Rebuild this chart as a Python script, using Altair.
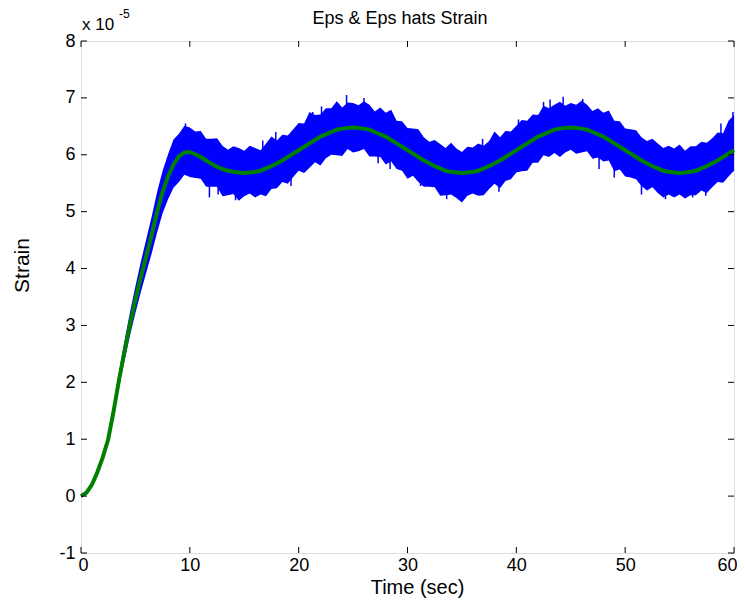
import altair as alt
import pandas as pd

# ---- data (strain in units of 1e-5) ----
time_s = [i / 2 for i in range(121)]  # 0 .. 60 s, 0.5 s sampling

green = [
    0.00, 0.06, 0.20, 0.42, 0.68, 1.00, 1.50, 2.05, 2.55, 3.02, 3.45,
    3.85, 4.22, 4.60, 5.00, 5.35, 5.62, 5.83, 5.97, 6.04, 6.05,
    6.01, 5.96, 5.90, 5.84, 5.79, 5.75, 5.72, 5.70, 5.69, 5.68,
    5.69, 5.70, 5.72, 5.76, 5.80, 5.85, 5.90, 5.96, 6.02, 6.08,
    6.14, 6.20, 6.26, 6.32, 6.36, 6.40, 6.44, 6.46, 6.47, 6.48,
    6.47, 6.46, 6.44, 6.40, 6.36, 6.32, 6.26, 6.20, 6.14, 6.08,
    6.02, 5.96, 5.90, 5.85, 5.80, 5.76, 5.72, 5.70, 5.69, 5.68,
    5.69, 5.70, 5.72, 5.76, 5.80, 5.85, 5.90, 5.96, 6.02, 6.08,
    6.14, 6.20, 6.26, 6.32, 6.36, 6.40, 6.44, 6.46, 6.47, 6.48,
    6.47, 6.46, 6.44, 6.40, 6.36, 6.32, 6.26, 6.20, 6.14, 6.08,
    6.02, 5.96, 5.90, 5.85, 5.80, 5.76, 5.72, 5.70, 5.69, 5.68,
    5.69, 5.70, 5.72, 5.76, 5.80, 5.85, 5.90, 5.96, 6.02, 6.08,
]

# upper / lower reach of the noisy blue signal around the fit
noise_up = [
    0.02, 0.02, 0.03, 0.04, 0.05, 0.07, 0.10, 0.14, 0.18, 0.21, 0.24,
    0.27, 0.30, 0.32, 0.35, 0.37, 0.39, 0.44, 0.40, 0.47, 0.43,
    0.40, 0.46, 0.38, 0.44, 0.50, 0.41, 0.37, 0.45, 0.43, 0.39,
    0.47, 0.42, 0.36, 0.44, 0.52, 0.40, 0.45, 0.38, 0.43, 0.48,
    0.41, 0.55, 0.44, 0.39, 0.46, 0.42, 0.50, 0.37, 0.45, 0.43,
    0.40, 0.48, 0.44, 0.36, 0.47, 0.42, 0.53, 0.40, 0.45, 0.39,
    0.44, 0.49, 0.41, 0.38, 0.46, 0.43, 0.40, 0.51, 0.42, 0.37,
    0.45, 0.43, 0.48, 0.40, 0.44, 0.56, 0.41, 0.46, 0.39, 0.43,
    0.47, 0.40, 0.45, 0.38, 0.50, 0.42, 0.44, 0.47, 0.39, 0.43,
    0.41, 0.49, 0.44, 0.37, 0.46, 0.42, 0.52, 0.40, 0.45, 0.38,
    0.43, 0.47, 0.41, 0.39, 0.48, 0.44, 0.40, 0.46, 0.42, 0.50,
    0.38, 0.45, 0.43, 0.47, 0.41, 0.44, 0.49, 0.42, 0.58, 0.62,
]
noise_dn = [
    0.02, 0.02, 0.03, 0.04, 0.05, 0.07, 0.09, 0.13, 0.17, 0.20, 0.23,
    0.26, 0.29, 0.33, 0.36, 0.38, 0.40, 0.41, 0.45, 0.39, 0.44,
    0.42, 0.38, 0.46, 0.40, 0.35, 0.48, 0.43, 0.39, 0.50, 0.41,
    0.37, 0.45, 0.42, 0.49, 0.40, 0.44, 0.38, 0.47, 0.41, 0.36,
    0.46, 0.43, 0.39, 0.51, 0.42, 0.40, 0.45, 0.48, 0.37, 0.44,
    0.41, 0.36, 0.47, 0.43, 0.40, 0.49, 0.38, 0.45, 0.42, 0.50,
    0.39, 0.44, 0.46, 0.41, 0.37, 0.48, 0.43, 0.40, 0.45, 0.52,
    0.41, 0.38, 0.44, 0.47, 0.40, 0.36, 0.49, 0.42, 0.45, 0.39,
    0.43, 0.48, 0.40, 0.46, 0.37, 0.44, 0.41, 0.50, 0.43, 0.39,
    0.45, 0.42, 0.38, 0.47, 0.41, 0.44, 0.36, 0.49, 0.40, 0.46,
    0.42, 0.39, 0.45, 0.48, 0.37, 0.43, 0.47, 0.40, 0.44, 0.38,
    0.46, 0.41, 0.43, 0.39, 0.47, 0.42, 0.38, 0.45, 0.40, 0.36,
]

# isolated spikes of the blue signal
spike_t = [9.6, 11.8, 14.2, 16.7, 19.3, 22.1, 24.4, 26.0, 28.4, 33.6,
           36.9, 40.2, 42.5, 44.3, 46.1, 49.0, 53.7, 56.2, 58.8, 59.9,
           12.6, 17.9, 21.3, 27.3, 31.2, 38.4, 43.1, 47.6, 51.5, 57.4]
spike_from = [6.0, 5.6, 5.4, 5.9, 5.6, 6.5, 6.7, 6.7, 5.95, 5.4,
              6.0, 6.4, 6.6, 6.7, 6.7, 5.8, 5.4, 5.4, 6.2, 6.4,
              5.6, 6.1, 6.5, 6.0, 5.7, 5.6, 6.7, 6.0, 5.6, 5.5]
spike_to = [6.55, 5.25, 5.2, 6.25, 5.45, 6.85, 7.05, 7.0, 5.75, 5.22,
            6.28, 6.62, 6.93, 7.02, 6.98, 5.6, 5.22, 5.25, 6.55, 6.75,
            5.3, 6.4, 6.75, 5.85, 5.45, 5.35, 6.97, 5.75, 5.3, 5.28]

x_ticks = [0, 10, 20, 30, 40, 50, 60]
y_ticks = [-1, 0, 1, 2, 3, 4, 5, 6, 7, 8]

FONT = "Liberation Sans"
W, H = 653, 512
TICK = 6

df = pd.DataFrame({
    "t": time_s,
    "fit": green,
    "hi": [g + u for g, u in zip(green, noise_up)],
    "lo": [g - d for g, d in zip(green, noise_dn)],
})
spikes = pd.DataFrame({"t": spike_t, "a": spike_from, "b": spike_to})
xt = pd.DataFrame({"v": x_ticks})
yt = pd.DataFrame({"v": y_ticks})

xs = alt.Scale(domain=[0, 60], nice=False, zero=False)
ys = alt.Scale(domain=[-1, 8], nice=False, zero=False)

x_axis = alt.Axis(values=x_ticks, ticks=False, domain=False, grid=False,
                  labelFontSize=18, labelFont=FONT, labelColor="black",
                  labelPadding=3, labelExpr="'' + datum.value",
                  labelFlush=True, labelFlushOffset=3,
                  title="Time (sec)", titleFont=FONT,
                  titleFontSize=20, titleFontWeight="normal", titleColor="black",
                  titleX=336, titleY=40, titleBaseline="alphabetic")
y_axis = alt.Axis(values=y_ticks, ticks=False, domain=False, grid=False,
                  labelFontSize=18, labelFont=FONT, labelColor="black",
                  labelPadding=6, labelExpr="'' + datum.value",
                  title="Strain", titleFont=FONT,
                  titleFontSize=21, titleFontWeight="normal", titleColor="black",
                  titleX=-59, titleY=224, titleAngle=-90, titleBaseline="middle",
                  titleAlign="center")

band = alt.Chart(df).mark_area(color="#0000ff", opacity=1).encode(
    x=alt.X("t:Q", scale=xs, axis=x_axis),
    y=alt.Y("lo:Q", scale=ys, axis=y_axis),
    y2="hi:Q",
)
spk = alt.Chart(spikes).mark_rule(color="#0000ff", strokeWidth=1.5).encode(
    x=alt.X("t:Q", scale=xs), y=alt.Y("a:Q", scale=ys), y2="b:Q"
)
fit = alt.Chart(df).mark_line(color="#008000", strokeWidth=4).encode(
    x=alt.X("t:Q", scale=xs), y=alt.Y("fit:Q", scale=ys)
)

tick_style = dict(color="black", strokeWidth=1)
bt = alt.Chart(xt).mark_rule(**tick_style).encode(
    x=alt.X("v:Q", scale=xs), y=alt.value(H), y2=alt.value(H - TICK))
tt = alt.Chart(xt).mark_rule(**tick_style).encode(
    x=alt.X("v:Q", scale=xs), y=alt.value(0), y2=alt.value(TICK))
lt = alt.Chart(yt).mark_rule(**tick_style).encode(
    y=alt.Y("v:Q", scale=ys), x=alt.value(0), x2=alt.value(TICK))
rt = alt.Chart(yt).mark_rule(**tick_style).encode(
    y=alt.Y("v:Q", scale=ys), x=alt.value(W), x2=alt.value(W - TICK))

one = pd.DataFrame({"k": [0]})
mult = alt.Chart(one).mark_text(font=FONT, fontSize=17, align="left",
                                baseline="alphabetic", color="black").encode(
    x=alt.value(1), y=alt.value(-11), text=alt.value("x 10"))
expo = alt.Chart(one).mark_text(font=FONT, fontSize=12, align="left",
                                baseline="alphabetic", color="black").encode(
    x=alt.value(38), y=alt.value(-23), text=alt.value("-5"))
ttl = alt.Chart(one).mark_text(font=FONT, fontSize=18, align="center",
                               baseline="alphabetic", color="black").encode(
    x=alt.value(319), y=alt.value(-17), text=alt.value("Eps & Eps hats Strain"))

chart = alt.layer(band, spk, fit, bt, tt, lt, rt, mult, expo, ttl).properties(
    width=W, height=H,
    autosize=alt.AutoSizeParams(type="none"),
    padding={"left": 73, "top": 33, "right": 3, "bottom": 45},
).configure_view(stroke="black", strokeWidth=1.2).configure(background="white")

chart.save("out.html", embed_options={"renderer": "svg", "actions": False})
